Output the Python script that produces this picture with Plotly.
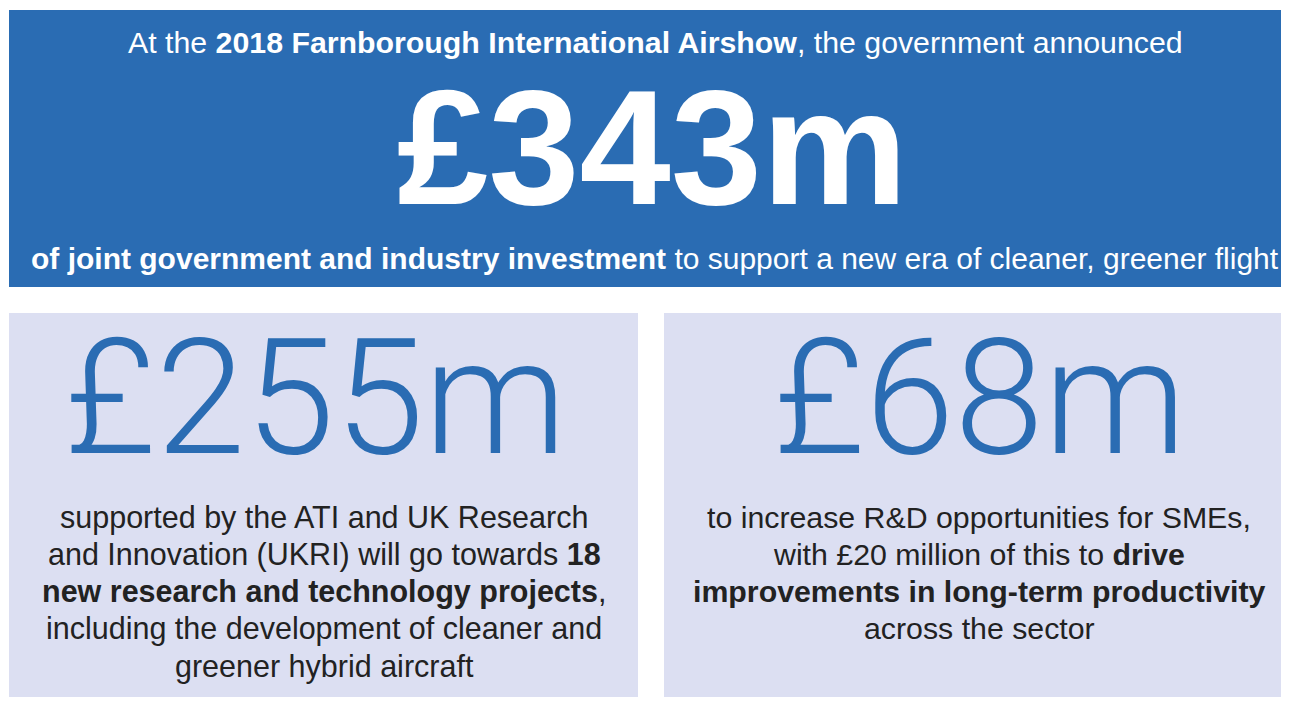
import plotly.graph_objects as go

# ---- data ----
headline_values = [343]          # £m announced
split_values = [255, 68]         # £m split
sme_sub_value = [20]             # £ million
project_count = [18]
event_year = [2018]

top_line = [f"At the <b>{event_year[0]} Farnborough International Airshow</b>, the government announced"]
bottom_line = ["<b>of joint government and industry investment</b> to support a new era of cleaner, greener flight"]
left_lines = [
    "supported by the ATI and UK Research",
    f"and Innovation (UKRI) will go towards <b>{project_count[0]}</b>",
    "<b>new research and technology projects</b>,",
    "including the development of cleaner and",
    "greener hybrid aircraft",
]
right_lines = [
    "to increase R&D opportunities for SMEs,",
    f"with £{sme_sub_value[0]} million of this to <b>drive</b>",
    "<b>improvements in long-term productivity</b>",
    "across the sector",
]

BLUE = "#2a6cb3"
PANEL = "#dcdff2"
DARK = "#222222"
FONT = "Liberation Sans, Arial, sans-serif"
LIGHT_FONT = "Roboto, Liberation Sans, sans-serif"

W, H = 1289, 701
OFF = 8  # page body margin offset

fig = go.Figure()

shapes = [
    dict(type="rect", x0=9, x1=1300, y0=10, y1=287, fillcolor=BLUE, line_width=0, layer="below"),
    dict(type="rect", x0=9, x1=638, y0=313, y1=697, fillcolor=PANEL, line_width=0, layer="below"),
    dict(type="rect", x0=664, x1=1300, y0=313, y1=697, fillcolor=PANEL, line_width=0, layer="below"),
]

ann = []
def add(text, x, y, size, color, weight=None, family=FONT):
    f = dict(size=size, color=color, family=family)
    if weight:
        f["weight"] = weight
    ann.append(dict(text=text, x=x, y=y, xref="x", yref="y", showarrow=False,
                    xanchor="center", yanchor="middle", font=f, align="center"))

add(top_line[0], 655, 42, 30.3, "white")
add(f"<b>£{headline_values[0]}m</b>", 652, 147, 164, "white")
add(bottom_line[0], 655, 258, 30, "white")

add(f"£{split_values[0]}m", 315, 398, 161, BLUE, weight=300, family=LIGHT_FONT)
add(f"£{split_values[1]}m", 979, 398, 161, BLUE, weight=300, family=LIGHT_FONT)

for i, t in enumerate(left_lines):
    add(t, 324, 517 + 37.3 * i, 30.5, DARK)
for i, t in enumerate(right_lines):
    add(t, 979, 517 + 37.3 * i, 30.3, DARK)

fig.update_layout(
    width=W, height=H, margin=dict(l=0, r=0, t=0, b=0),
    paper_bgcolor="white", plot_bgcolor="white",
    xaxis=dict(range=[OFF, W + OFF], visible=False, fixedrange=True),
    yaxis=dict(range=[H + OFF, OFF], visible=False, fixedrange=True),
    shapes=shapes, annotations=ann, showlegend=False,
)
fig.write_html("out.html")
